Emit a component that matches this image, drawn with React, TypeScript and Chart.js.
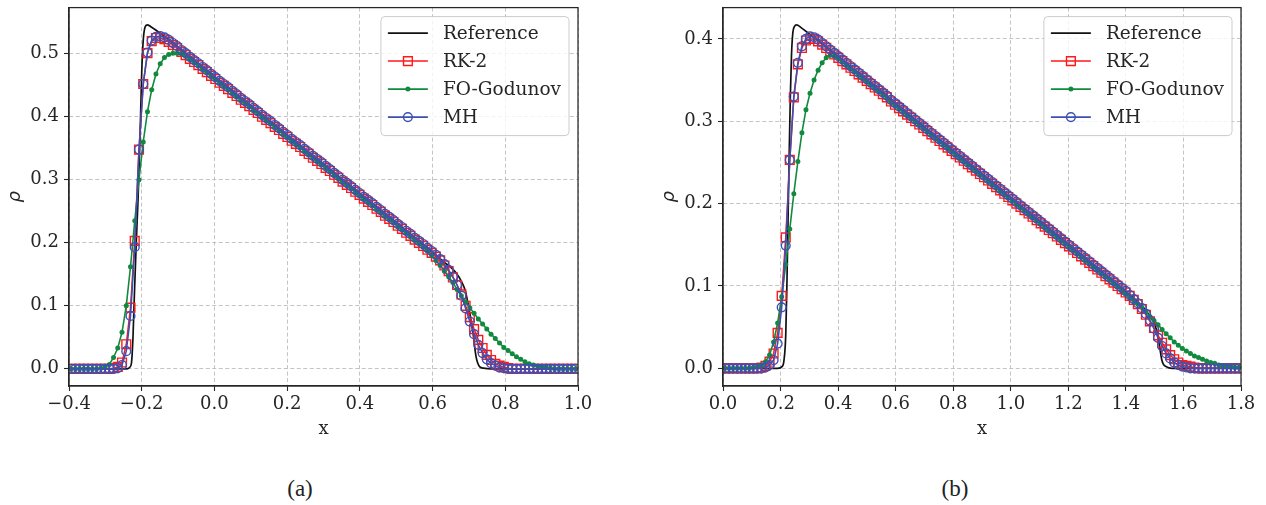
import React, { useEffect, useRef } from 'react';
import { Chart, registerables } from 'chart.js';

Chart.register(...registerables);

// ---------------- shared ----------------
const SERIES_LABELS = ['Reference', 'RK-2', 'FO-Godunov', 'MH'];
const COLOR_REF = '#111111';
const COLOR_RK2 = '#ff1a1a';
const COLOR_FOG = '#118a3e';
const COLOR_MH = '#3c50b4';

// ---------------- panel (a) ----------------
const A_X_MIN = -0.4;
const A_X_MAX = 1.0;
const A_CELLS = 120;
const A_Y_MIN = -0.0273;
const A_Y_MAX = 0.5733;
const A_X_TICKS = [-0.4, -0.2, 0.0, 0.2, 0.4, 0.6, 0.8, 1.0];
const A_Y_TICKS = [0.0, 0.1, 0.2, 0.3, 0.4, 0.5];

const A_REF_X = [-0.4, -0.24, -0.232, -0.228, -0.224, -0.22, -0.215, -0.21, -0.205, -0.2, -0.196, -0.191, -0.185, -0.175, -0.15, 0.0, 0.3, 0.6, 0.63, 0.65, 0.665, 0.68, 0.69, 0.70, 0.71, 0.72, 0.73, 0.74, 0.76, 1.0];
const A_REF_Y = [0, 0, 0.003, 0.01, 0.05, 0.12, 0.2, 0.27, 0.36, 0.47, 0.52, 0.542, 0.546, 0.543, 0.533, 0.463, 0.324, 0.185, 0.170, 0.161, 0.152, 0.138, 0.124, 0.096, 0.062, 0.018, 0.003, 0.001, 0.0, 0];

const A_RK2 = [
  0, 0, 0, 0, 0, 0, 0, 0, 0, 0,
  0.001, 0.003, 0.010, 0.039, 0.097, 0.203, 0.348, 0.452, 0.501, 0.520, 0.525, 0.525, 0.523, 0.519,
  0.514, 0.509, 0.503, 0.498, 0.492, 0.487, 0.482, 0.476, 0.471, 0.465, 0.460, 0.454, 0.449, 0.444, 0.438, 0.433,
  0.427, 0.422, 0.417, 0.411, 0.406, 0.400, 0.395, 0.390, 0.384, 0.379, 0.373, 0.368, 0.362, 0.357, 0.352, 0.346,
  0.341, 0.335, 0.330, 0.325, 0.319, 0.314, 0.308, 0.303, 0.297, 0.292, 0.287, 0.281, 0.276, 0.270, 0.265, 0.260,
  0.254, 0.249, 0.243, 0.238, 0.233, 0.227, 0.222, 0.216, 0.211, 0.205, 0.200, 0.195, 0.189, 0.184, 0.178,
  0.172, 0.164, 0.155, 0.145, 0.133, 0.118, 0.100, 0.082, 0.063, 0.046, 0.033, 0.022, 0.014, 0.008, 0.005, 0.003, 0.001,
  0, 0, 0, 0, 0, 0, 0, 0, 0, 0, 0, 0, 0, 0, 0, 0,
];

const A_FOG = [
  0, 0, 0, 0, 0, 0, 0,
  0.001, 0.003, 0.007, 0.018, 0.033, 0.058, 0.100, 0.162, 0.235, 0.300, 0.360, 0.408, 0.443, 0.468, 0.484, 0.494, 0.499, 0.501, 0.501, 0.500, 0.496,
  0.491, 0.486, 0.481, 0.475, 0.470, 0.464, 0.459, 0.453, 0.448, 0.443,
  0.437, 0.432, 0.426, 0.421, 0.416, 0.410, 0.405, 0.399, 0.394, 0.389,
  0.383, 0.378, 0.372, 0.367, 0.361, 0.356, 0.351, 0.345, 0.340, 0.334,
  0.329, 0.324, 0.318, 0.313, 0.307, 0.302, 0.296, 0.291, 0.286, 0.280,
  0.275, 0.269, 0.264, 0.259, 0.253, 0.248, 0.242, 0.237, 0.232, 0.226,
  0.221, 0.215, 0.210, 0.204, 0.199, 0.193,
  0.187, 0.180, 0.172, 0.164, 0.155, 0.146, 0.137, 0.126, 0.116, 0.106, 0.097, 0.088, 0.079, 0.071, 0.063,
  0.055, 0.048, 0.041, 0.034, 0.029, 0.024, 0.019, 0.015, 0.011, 0.008, 0.006, 0.004, 0.003, 0.002, 0.001,
  0, 0, 0, 0, 0, 0,
];

const A_MH = [
  0, 0, 0, 0, 0, 0, 0, 0, 0, 0, 0,
  0.001, 0.006, 0.028, 0.084, 0.193, 0.348, 0.452, 0.502, 0.521, 0.527, 0.528, 0.526, 0.522,
  0.517, 0.512, 0.506, 0.501, 0.495, 0.490, 0.485, 0.479, 0.474, 0.468, 0.463, 0.457, 0.452, 0.447, 0.441, 0.436,
  0.430, 0.425, 0.420, 0.414, 0.409, 0.403, 0.398, 0.393, 0.387, 0.382, 0.376, 0.371, 0.365, 0.360, 0.355, 0.349,
  0.344, 0.338, 0.333, 0.328, 0.322, 0.317, 0.311, 0.306, 0.300, 0.295, 0.290, 0.284, 0.279, 0.273, 0.268, 0.263,
  0.257, 0.252, 0.246, 0.241, 0.236, 0.230, 0.225, 0.219, 0.214, 0.208, 0.203, 0.198, 0.192, 0.187, 0.181,
  0.174, 0.166, 0.157, 0.146, 0.133, 0.116, 0.096, 0.075, 0.055, 0.038, 0.025, 0.015, 0.009, 0.005, 0.002, 0.001,
  0, 0, 0, 0, 0, 0, 0, 0, 0, 0, 0, 0, 0, 0, 0, 0, 0,
];

// ---------------- panel (b) ----------------
const B_X_MIN = 0.0;
const B_X_MAX = 1.8;
const B_CELLS = 128;
const B_Y_MIN = -0.0215;
const B_Y_MAX = 0.438;
const B_X_TICKS = [0.0, 0.2, 0.4, 0.6, 0.8, 1.0, 1.2, 1.4, 1.6, 1.8];
const B_Y_TICKS = [0.0, 0.1, 0.2, 0.3, 0.4];

const B_REF_X = [0.0, 0.19, 0.205, 0.212, 0.218, 0.222, 0.226, 0.23, 0.234, 0.238, 0.242, 0.248, 0.256, 0.27, 0.3, 0.6, 1.0, 1.4, 1.45, 1.47, 1.49, 1.50, 1.51, 1.515, 1.52, 1.525, 1.53, 1.54, 1.55, 1.56, 1.8];
const B_REF_Y = [0, 0, 0.002, 0.01, 0.04, 0.1, 0.18, 0.26, 0.33, 0.38, 0.405, 0.415, 0.417, 0.414, 0.406, 0.321, 0.207, 0.093, 0.078, 0.070, 0.060, 0.053, 0.042, 0.032, 0.020, 0.010, 0.005, 0.002, 0.0005, 0, 0];

const B_RK2 = [
  0, 0, 0, 0, 0, 0, 0, 0, 0,
  0.001, 0.003, 0.008, 0.018, 0.043, 0.088, 0.159, 0.253, 0.329, 0.369, 0.389, 0.398, 0.400, 0.400, 0.397, 0.393,
  0.389, 0.385, 0.381, 0.377, 0.373, 0.369, 0.365, 0.361, 0.357, 0.353, 0.349, 0.345, 0.341, 0.337, 0.333, 0.329,
  0.324, 0.320, 0.316, 0.312, 0.308, 0.304, 0.300, 0.296, 0.292, 0.288,
  0.284, 0.280, 0.276, 0.272, 0.268, 0.264, 0.260, 0.256, 0.252, 0.248,
  0.244, 0.240, 0.236, 0.232, 0.228, 0.224, 0.220, 0.216, 0.212, 0.208,
  0.204, 0.200, 0.196, 0.192, 0.188, 0.184, 0.180, 0.176, 0.172, 0.168,
  0.164, 0.160, 0.156, 0.152, 0.148, 0.144, 0.140, 0.136, 0.132, 0.128,
  0.124, 0.120, 0.116, 0.112, 0.108, 0.104, 0.100, 0.096, 0.092,
  0.088, 0.083, 0.078, 0.072, 0.065, 0.057, 0.049, 0.040, 0.031, 0.023, 0.016, 0.011, 0.007, 0.004, 0.003, 0.002, 0.001,
  0, 0, 0, 0, 0, 0, 0, 0, 0, 0, 0,
];

const B_FOG = [
  0, 0, 0, 0, 0, 0, 0,
  0.001, 0.002, 0.004, 0.008, 0.016, 0.032, 0.055, 0.087, 0.126, 0.169, 0.212, 0.251, 0.286, 0.314, 0.334, 0.350, 0.362, 0.371, 0.377, 0.380, 0.379, 0.377,
  0.372, 0.368, 0.364, 0.360, 0.356, 0.352, 0.348, 0.344, 0.340, 0.336, 0.332, 0.328,
  0.323, 0.319, 0.315, 0.311, 0.307, 0.303, 0.299, 0.295, 0.291, 0.287,
  0.283, 0.279, 0.275, 0.271, 0.267, 0.263, 0.259, 0.255, 0.251, 0.247,
  0.243, 0.239, 0.235, 0.231, 0.227, 0.223, 0.219, 0.215, 0.211, 0.207,
  0.203, 0.199, 0.195, 0.191, 0.187, 0.183, 0.179, 0.175, 0.171, 0.167,
  0.163, 0.159, 0.155, 0.151, 0.147, 0.143, 0.139, 0.135, 0.131, 0.127,
  0.123, 0.119, 0.115, 0.111, 0.107, 0.103, 0.099,
  0.094, 0.090, 0.086, 0.082, 0.078, 0.074, 0.069, 0.063, 0.058, 0.053, 0.047, 0.042, 0.037, 0.032, 0.028,
  0.024, 0.021, 0.018, 0.015, 0.013, 0.011, 0.009, 0.007, 0.006, 0.004, 0.003, 0.002, 0.002, 0.001, 0.001,
];

const B_MH = [
  0, 0, 0, 0, 0, 0, 0, 0, 0, 0,
  0.001, 0.004, 0.010, 0.030, 0.074, 0.149, 0.253, 0.330, 0.371, 0.391, 0.400, 0.403, 0.402, 0.399, 0.395,
  0.391, 0.387, 0.383, 0.379, 0.375, 0.371, 0.367, 0.363, 0.359, 0.355, 0.351, 0.347, 0.343, 0.339, 0.335, 0.331,
  0.326, 0.322, 0.318, 0.314, 0.310, 0.306, 0.302, 0.298, 0.294, 0.290,
  0.286, 0.282, 0.278, 0.274, 0.270, 0.266, 0.262, 0.258, 0.254, 0.250,
  0.246, 0.242, 0.238, 0.234, 0.230, 0.226, 0.222, 0.218, 0.214, 0.210,
  0.206, 0.202, 0.198, 0.194, 0.190, 0.186, 0.182, 0.178, 0.174, 0.170,
  0.166, 0.162, 0.158, 0.154, 0.150, 0.146, 0.142, 0.138, 0.134, 0.130,
  0.126, 0.122, 0.118, 0.114, 0.110, 0.106, 0.102, 0.098, 0.094,
  0.089, 0.084, 0.079, 0.073, 0.066, 0.058, 0.048, 0.037, 0.027, 0.018, 0.012, 0.007, 0.004, 0.002, 0.001,
  0, 0, 0, 0, 0, 0, 0, 0, 0, 0, 0, 0, 0,
];

// ---------------- helpers ----------------
const TICK_FONT = { family: '"DejaVu Serif", serif', size: 18 };
const TEXT_COLOR = '#262626';
const AXIS_COLOR = '#262626';
const PLOT_TOP = 7;
const PLOT_BOTTOM = 386;
const Y_AXIS_W = 69;
const CANVAS_H = 450;

function cellCenters(min: number, max: number, n: number): number[] {
  const dx = (max - min) / n;
  return Array.from({ length: n }, (_, i) => min + (i + 0.5) * dx);
}

function fmt(v: number): string {
  const s = Math.abs(v) < 1e-9 ? '0.0' : v.toFixed(1);
  return s.replace('-', '\u2212');
}

function drawMarker(ctx: CanvasRenderingContext2D, style: string, x: number, y: number, r: number, fill: string, stroke: string, bw: number) {
  ctx.beginPath();
  if (style === 'rect') {
    const s = r * Math.SQRT1_2;
    ctx.rect(x - s, y - s, 2 * s, 2 * s);
  } else {
    ctx.arc(x, y, r, 0, Math.PI * 2);
  }
  if (fill && fill !== 'rgba(0,0,0,0)') {
    ctx.fillStyle = fill;
    ctx.fill();
  }
  if (bw > 0) {
    ctx.lineWidth = bw;
    ctx.strokeStyle = stroke;
    ctx.stroke();
  }
}

const frameAndLegend = {
  id: 'frameAndLegend',
  afterDatasetsDraw(chart: any) {
    const { ctx, chartArea: a } = chart;
    ctx.save();
    // full axes box
    ctx.strokeStyle = AXIS_COLOR;
    ctx.lineWidth = 1.25;
    ctx.strokeRect(a.left, a.top, a.right - a.left, a.bottom - a.top);

    // legend
    ctx.font = '18.5px "DejaVu Serif", serif';
    const items = SERIES_LABELS.map((l) => chart.data.datasets.find((d: any) => d.label === l));
    const textW = Math.max(...items.map((d: any) => ctx.measureText(d.label).width));
    const handleStart = 7;
    const handleLen = 40;
    const textStart = 62;
    const w = textStart + textW + 8;
    const h = 119;
    const right = a.right - 9;
    const top = a.top + 9;
    const left = right - w;
    ctx.beginPath();
    if (ctx.roundRect) ctx.roundRect(left, top, w, h, 4);
    else ctx.rect(left, top, w, h);
    ctx.fillStyle = 'rgba(255,255,255,0.8)';
    ctx.fill();
    ctx.strokeStyle = '#cccccc';
    ctx.lineWidth = 1;
    ctx.stroke();
    items.forEach((d: any, k: number) => {
      const y = top + 16.5 + 28 * k;
      ctx.strokeStyle = d.borderColor;
      ctx.lineWidth = d.borderWidth;
      ctx.beginPath();
      ctx.moveTo(left + handleStart, y);
      ctx.lineTo(left + handleStart + handleLen, y);
      ctx.stroke();
      if (d.pointRadius > 0) {
        drawMarker(ctx, d.pointStyle, left + handleStart + handleLen / 2, y, d.pointRadius, d.pointBackgroundColor, d.pointBorderColor, d.pointBorderWidth);
      }
      ctx.fillStyle = TEXT_COLOR;
      ctx.textAlign = 'left';
      ctx.textBaseline = 'middle';
      ctx.fillText(d.label, left + textStart, y + 1);
    });
    ctx.restore();
  },
};

function buildConfig(opts: {
  xs: number[]; rk2: number[]; fog: number[]; mh: number[]; refX: number[]; refY: number[];
  xMin: number; xMax: number; yMin: number; yMax: number; xTicks: number[]; yTicks: number[];
  rightPad: number;
}): any {
  const pts = (ys: number[]) => ys.map((y, i) => ({ x: opts.xs[i], y }));
  const datasets = [
    {
      label: 'Reference',
      data: opts.refX.map((x, i) => ({ x, y: opts.refY[i] })),
      borderColor: COLOR_REF,
      borderWidth: 1.7,
      pointRadius: 0,
      cubicInterpolationMode: 'monotone',
      order: 4,
      clip: 0,
    },
    {
      label: 'RK-2',
      data: pts(opts.rk2),
      borderColor: COLOR_RK2,
      borderWidth: 1.5,
      pointStyle: 'rect',
      pointRadius: 6.2,
      pointBorderColor: COLOR_RK2,
      pointBackgroundColor: 'rgba(0,0,0,0)',
      pointBorderWidth: 1.4,
      order: 3,
      clip: 0,
    },
    {
      label: 'FO-Godunov',
      data: pts(opts.fog),
      borderColor: COLOR_FOG,
      borderWidth: 1.6,
      pointStyle: 'circle',
      pointRadius: 2.5,
      pointBorderColor: COLOR_FOG,
      pointBackgroundColor: COLOR_FOG,
      pointBorderWidth: 0,
      order: 2,
      clip: 0,
    },
    {
      label: 'MH',
      data: pts(opts.mh),
      borderColor: COLOR_MH,
      borderWidth: 1.6,
      pointStyle: 'circle',
      pointRadius: 4.4,
      pointBorderColor: COLOR_MH,
      pointBackgroundColor: 'rgba(0,0,0,0)',
      pointBorderWidth: 1.4,
      order: 1,
      clip: 0,
    },
  ];

  const gridCommon = {
    color: '#bdbdbd',
    lineWidth: 0.9,
    drawTicks: true,
    tickLength: 5,
    tickColor: AXIS_COLOR,
    tickWidth: 1.1,
    tickBorderDash: [],
  };
  const borderCommon = { display: true, color: AXIS_COLOR, width: 1.25, dash: [4, 2.5] };

  return {
    type: 'line',
    data: { datasets },
    options: {
      animation: false,
      responsive: false,
      maintainAspectRatio: false,
      devicePixelRatio: 1,
      events: [],
      layout: { padding: { left: 0, top: PLOT_TOP, right: opts.rightPad, bottom: 0 } },
      plugins: { legend: { display: false }, tooltip: { enabled: false } },
      elements: { line: { tension: 0 } },
      scales: {
        x: {
          type: 'linear',
          min: opts.xMin,
          max: opts.xMax,
          afterBuildTicks: (s: any) => { s.ticks = opts.xTicks.map((v) => ({ value: v })); },
          afterFit: (s: any) => { s.height = CANVAS_H - PLOT_BOTTOM; s.paddingLeft = 0; s.paddingRight = 0; },
          ticks: { font: TICK_FONT, color: TEXT_COLOR, padding: 3, maxRotation: 0, autoSkip: false, callback: (v: any) => fmt(Number(v)) },
          grid: gridCommon,
          border: borderCommon,
          title: { display: true, text: 'x', font: TICK_FONT, color: TEXT_COLOR, padding: { top: 0, bottom: 10 } },
        },
        y: {
          type: 'linear',
          min: opts.yMin,
          max: opts.yMax,
          afterBuildTicks: (s: any) => { s.ticks = opts.yTicks.map((v) => ({ value: v })); },
          afterFit: (s: any) => { s.width = Y_AXIS_W; s.paddingTop = 0; s.paddingBottom = 0; },
          ticks: { font: TICK_FONT, color: TEXT_COLOR, padding: 5, autoSkip: false, callback: (v: any) => fmt(Number(v)) },
          grid: gridCommon,
          border: borderCommon,
          title: { display: true, text: 'ρ', font: { family: '"DejaVu Sans", sans-serif', size: 18, style: 'italic' }, color: TEXT_COLOR, padding: { top: 5, bottom: 0 } },
        },
      },
    },
    plugins: [frameAndLegend],
  };
}

export default function App() {
  const refA = useRef<HTMLCanvasElement | null>(null);
  const refB = useRef<HTMLCanvasElement | null>(null);

  useEffect(() => {
    const chartA = new Chart(refA.current as HTMLCanvasElement, buildConfig({
      xs: cellCenters(A_X_MIN, A_X_MAX, A_CELLS),
      rk2: A_RK2, fog: A_FOG, mh: A_MH, refX: A_REF_X, refY: A_REF_Y,
      xMin: A_X_MIN, xMax: A_X_MAX, yMin: A_Y_MIN, yMax: A_Y_MAX,
      xTicks: A_X_TICKS, yTicks: A_Y_TICKS, rightPad: 22,
    }));
    const chartB = new Chart(refB.current as HTMLCanvasElement, buildConfig({
      xs: cellCenters(B_X_MIN, B_X_MAX, B_CELLS),
      rk2: B_RK2, fog: B_FOG, mh: B_MH, refX: B_REF_X, refY: B_REF_Y,
      xMin: B_X_MIN, xMax: B_X_MAX, yMin: B_Y_MIN, yMax: B_Y_MAX,
      xTicks: B_X_TICKS, yTicks: B_Y_TICKS, rightPad: 25,
    }));
    return () => {
      chartA.destroy();
      chartB.destroy();
    };
  }, []);

  const captionStyle: React.CSSProperties = {
    position: 'absolute',
    top: 477,
    width: 100,
    textAlign: 'center',
    fontFamily: '"Liberation Serif", serif',
    fontSize: 23,
    lineHeight: '24px',
    color: '#222',
  };

  return (
    <div style={{ position: 'absolute', left: 0, top: 0, width: 1266, height: 505, background: '#ffffff', overflow: 'hidden' }}>
      <canvas ref={refA} width={600} height={CANVAS_H} style={{ position: 'absolute', left: 0, top: 0, display: 'block' }} />
      <canvas ref={refB} width={612} height={CANVAS_H} style={{ position: 'absolute', left: 654, top: 0, display: 'block' }} />
      <div style={{ ...captionStyle, left: 250 }}>(a)</div>
      <div style={{ ...captionStyle, left: 905 }}>(b)</div>
    </div>
  );
}
